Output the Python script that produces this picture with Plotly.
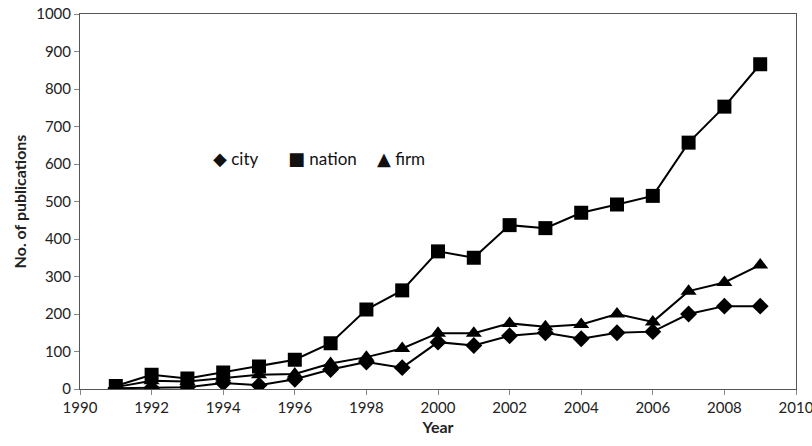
import plotly.graph_objects as go

years = list(range(1991, 2010))
city = [2, 3, 5, 16, 10, 26, 52, 72, 57, 125, 116, 142, 150, 134, 150, 153, 200, 221, 221]
nation = [8, 38, 28, 44, 60, 78, 122, 212, 263, 367, 350, 437, 429, 470, 492, 515, 657, 753, 866]
firm = [5, 22, 20, 30, 38, 40, 68, 85, 108, 149, 149, 175, 166, 172, 200, 179, 261, 284, 331]

series = [
    ("city", city, "diamond", 13, "\u25C6"),
    ("nation", nation, "square", 14, "\u25A0"),
    ("firm", firm, "triangle-up", 14, "\u25B2"),
]
legend_x = [0.183, 0.288, 0.412]

fig = go.Figure()
for name, vals, sym, sz, glyph in series:
    fig.add_trace(go.Scatter(
        x=years, y=vals, mode="lines+markers", name=name, showlegend=False,
        line=dict(color="black", width=2),
        marker=dict(symbol=sym, size=sz, color="black"),
    ))

font = "Lato, 'Open Sans', sans-serif"
for (name, vals, sym, sz, glyph), lx in zip(series, legend_x):
    fig.add_annotation(
        x=lx, y=0.615, xref="paper", yref="paper", xanchor="left", yanchor="middle",
        text=f"<span style='font-family:DejaVu Sans;font-size:18px'>{glyph}</span> {name}",
        showarrow=False, font=dict(size=17, color="#111", family=font),
    )

fig.update_layout(
    width=812, height=446,
    margin=dict(l=80, r=16, t=14, b=57),
    plot_bgcolor="white", paper_bgcolor="white",
    font=dict(family=font, size=15, color="#222"),
    showlegend=False,
    xaxis=dict(range=[1990, 2010], tickmode="array",
               tickvals=list(range(1990, 2011, 2)),
               ticks="outside", ticklen=5, tickcolor="#888",
               showline=True, linecolor="#555", linewidth=1, mirror=True,
               showgrid=False, zeroline=False, automargin=False,
               ticklabeloverflow="allow",
               tickfont=dict(size=15, color="#222"),
               title=dict(text="<b>Year</b>", font=dict(size=16, color="#222"), standoff=6)),
    yaxis=dict(range=[0, 1000], tickmode="array",
               tickvals=list(range(0, 1001, 100)),
               ticks="outside", ticklen=5, tickcolor="#888",
               showline=True, linecolor="#555", linewidth=1, mirror=True,
               showgrid=False, zeroline=False, automargin=False,
               ticklabeloverflow="allow",
               tickfont=dict(size=15, color="#222"),
               title=dict(text="<b>No. of publications</b>", font=dict(size=16, color="#222"), standoff=5)),
)

fig.write_html(
    "out.html",
    config={"displayModeBar": False},
    post_script="document.body.style.margin='0';document.documentElement.style.overflow='hidden';",
)
